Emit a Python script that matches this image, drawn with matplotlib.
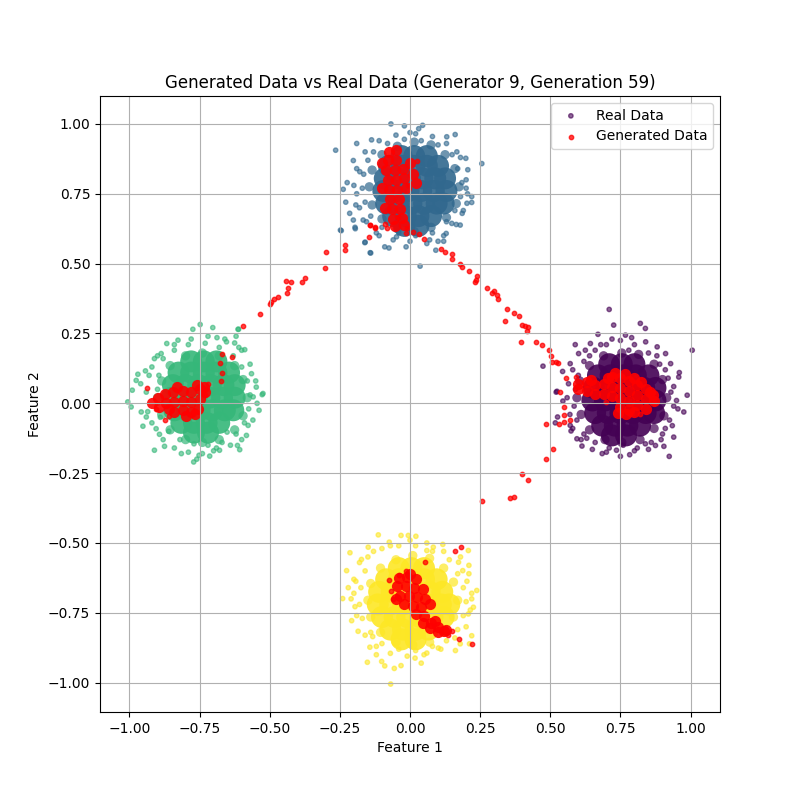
import matplotlib
matplotlib.use("Agg")
import matplotlib.pyplot as plt
import numpy as np

# ---------------- Real data ----------------
# label 0 = right (purple), 1 = top (blue), 2 = left (green), 3 = bottom (yellow)

# dense cores of each cluster
core0 = [(0.71,0.14),(0.755,0.14),(0.80,0.14),
         (0.67,0.10),(0.715,0.10),(0.76,0.10),(0.805,0.10),(0.85,0.10),
         (0.655,0.055),(0.70,0.055),(0.745,0.055),(0.79,0.055),(0.835,0.055),(0.875,0.055),
         (0.65,0.01),(0.695,0.01),(0.74,0.01),(0.785,0.01),(0.83,0.01),(0.875,0.01),
         (0.66,-0.035),(0.705,-0.035),(0.75,-0.035),(0.795,-0.035),(0.84,-0.035),(0.87,-0.035),
         (0.685,-0.08),(0.73,-0.08),(0.775,-0.08),(0.82,-0.08),
         (0.72,-0.115),(0.77,-0.115)]
core1 = [(-0.03,0.885),(0.015,0.885),(0.06,0.885),
         (-0.075,0.85),(-0.03,0.85),(0.015,0.85),(0.06,0.85),(0.10,0.85),
         (-0.09,0.805),(-0.045,0.805),(0.0,0.805),(0.045,0.805),(0.09,0.805),(0.125,0.805),
         (-0.095,0.76),(-0.05,0.76),(-0.005,0.76),(0.04,0.76),(0.085,0.76),(0.13,0.76),
         (-0.085,0.715),(-0.04,0.715),(0.005,0.715),(0.05,0.715),(0.095,0.715),(0.12,0.715),
         (-0.06,0.67),(-0.015,0.67),(0.03,0.67),(0.075,0.67),
         (-0.02,0.635),(0.03,0.635)]
core2 = [(-0.78,0.15),(-0.735,0.15),(-0.69,0.15),
         (-0.825,0.11),(-0.78,0.11),(-0.735,0.11),(-0.69,0.11),(-0.645,0.11),
         (-0.845,0.065),(-0.80,0.065),(-0.755,0.065),(-0.71,0.065),(-0.665,0.065),(-0.625,0.065),
         (-0.85,0.02),(-0.805,0.02),(-0.76,0.02),(-0.715,0.02),(-0.67,0.02),(-0.625,0.02),
         (-0.84,-0.025),(-0.795,-0.025),(-0.75,-0.025),(-0.705,-0.025),(-0.66,-0.025),(-0.63,-0.025),
         (-0.815,-0.07),(-0.77,-0.07),(-0.725,-0.07),(-0.68,-0.07),
         (-0.77,-0.105),(-0.72,-0.105)]
core3 = [(-0.04,-0.59),(0.005,-0.59),(0.05,-0.59),
         (-0.085,-0.63),(-0.04,-0.63),(0.005,-0.63),(0.05,-0.63),(0.095,-0.63),
         (-0.11,-0.675),(-0.065,-0.675),(-0.02,-0.675),(0.025,-0.675),(0.07,-0.675),(0.115,-0.675),
         (-0.115,-0.72),(-0.07,-0.72),(-0.025,-0.72),(0.02,-0.72),(0.065,-0.72),(0.11,-0.72),(0.14,-0.72),
         (-0.10,-0.765),(-0.055,-0.765),(-0.01,-0.765),(0.035,-0.765),(0.08,-0.765),(0.12,-0.765),
         (-0.07,-0.81),(-0.025,-0.81),(0.02,-0.81),(0.065,-0.81),
         (-0.03,-0.845),(0.02,-0.845)]

# transition band around each core
ring0 = [(0.915,0.02),(0.90,0.085),(0.87,0.14),(0.815,0.175),(0.755,0.18),(0.69,0.17),(0.64,0.135),
         (0.605,0.08),(0.595,0.02),(0.61,-0.04),(0.64,-0.095),(0.695,-0.13),(0.755,-0.14),
         (0.82,-0.13),(0.87,-0.09),(0.905,-0.045)]
ring1 = [(0.175,0.775),(0.16,0.84),(0.125,0.89),(0.075,0.925),(0.015,0.935),(-0.045,0.92),
         (-0.10,0.89),(-0.135,0.835),(-0.145,0.775),(-0.135,0.71),(-0.10,0.66),(-0.045,0.625),
         (0.015,0.615),(0.075,0.63),(0.13,0.665),(0.165,0.715)]
ring2 = [(-0.58,0.02),(-0.595,0.085),(-0.625,0.135),(-0.68,0.17),(-0.74,0.18),(-0.80,0.17),
         (-0.855,0.135),(-0.885,0.08),(-0.90,0.02),(-0.885,-0.04),(-0.855,-0.095),(-0.80,-0.13),
         (-0.74,-0.14),(-0.68,-0.13),(-0.625,-0.095),(-0.595,-0.045)]
ring3 = [(0.17,-0.705),(0.155,-0.64),(0.12,-0.59),(0.07,-0.555),(0.01,-0.545),(-0.05,-0.56),
         (-0.105,-0.59),(-0.14,-0.645),(-0.15,-0.705),(-0.14,-0.765),(-0.105,-0.82),(-0.05,-0.855),
         (0.01,-0.865),(0.07,-0.855),(0.12,-0.82),(0.155,-0.765)]

# scattered points around each cluster
outer0 = [(0.71,0.336),(0.726,0.28),(0.821,0.286),(0.839,0.268),(0.67,0.247),(0.589,0.21),
          (0.474,0.133),(0.544,0.114),(0.524,0.043),(0.545,0.008),(0.526,-0.049),(0.571,-0.079),
          (0.574,-0.099),(0.595,-0.127),(0.613,-0.153),(0.685,-0.18),(0.736,-0.168),(0.783,-0.184),
          (0.839,-0.145),(0.875,-0.151),(0.924,-0.19),(0.905,-0.154),(0.94,-0.121),(0.976,-0.031),
          (0.988,0.029),(1.006,0.19),(0.958,0.094),(0.929,0.142),(0.911,0.178),(0.881,0.202),
          (0.768,0.244),(0.643,0.214),(0.601,0.178),(0.571,0.142),(0.521,0.04),(0.518,-0.07),
          (0.62,0.15),(0.66,0.19),(0.70,0.21),(0.75,0.225),(0.80,0.21),(0.85,0.18),(0.89,0.14),
          (0.92,0.09),(0.93,0.04),(0.94,-0.01),(0.925,-0.06),(0.90,-0.11),(0.86,-0.14),
          (0.81,-0.16),(0.76,-0.15),(0.71,-0.16),(0.66,-0.14),(0.62,-0.11),(0.595,-0.06),
          (0.585,-0.01),(0.59,0.05),(0.60,0.10),(0.64,0.17),(0.78,0.19),(0.91,-0.09),(0.63,-0.125),
          (0.94,0.06),(0.955,-0.02),(0.935,-0.08),(0.91,0.12),(0.88,0.17),(0.84,0.22),(0.79,0.235),
          (0.72,0.23),(0.68,0.21),(0.625,0.19),(0.58,0.12),(0.565,0.07),(0.56,0.02),(0.57,-0.04),
          (0.58,-0.09),(0.61,-0.13),(0.65,-0.165),(0.70,-0.175),(0.75,-0.19),(0.80,-0.17),
          (0.85,-0.165),(0.895,-0.13),(0.95,0.01),(0.96,0.11)]
outer1 = [(-0.265,0.906),(-0.068,1.0),(-0.02,0.993),(0.045,0.995),(0.0,0.969),(0.031,0.983),
          (0.161,0.962),(0.256,0.858),(0.199,0.877),(0.206,0.836),(0.22,0.719),(-0.202,0.869),
          (-0.224,0.79),(-0.238,0.766),(-0.229,0.72),(-0.193,0.71),(-0.202,0.656),(-0.196,0.63),
          (-0.248,0.62),(-0.161,0.575),(-0.142,0.539),(-0.075,0.556),(-0.014,0.56),(0.036,0.491),
          (0.092,0.548),(0.129,0.608),(0.179,0.638),(0.186,0.68),(0.203,0.716),(-0.19,0.93),
          (-0.137,0.943),(0.131,0.954),(0.167,0.90),(-0.179,0.829),(-0.167,0.656),(-0.048,0.596),
          (0.06,0.572),(0.149,0.644),(-0.245,0.618),(-0.195,0.625),(-0.16,0.577),(-0.14,0.538),
          (-0.13,0.90),(-0.08,0.93),(-0.02,0.945),(0.04,0.94),(0.10,0.925),(0.15,0.89),
          (0.17,0.84),(0.185,0.79),(0.18,0.74),(0.16,0.69),(0.13,0.65),(0.08,0.61),(0.02,0.60),
          (-0.04,0.61),(-0.10,0.63),(-0.14,0.67),(-0.16,0.72),(-0.17,0.77),(-0.165,0.82),
          (-0.15,0.87),(-0.11,0.60),(0.12,0.60),(0.20,0.77),(-0.19,0.75),
          (0.20,0.80),(0.205,0.75),(0.19,0.69),(0.165,0.64),(0.12,0.58),(0.07,0.585),(0.0,0.58),
          (-0.06,0.585),(-0.12,0.61),(-0.155,0.65),(-0.18,0.70),(-0.20,0.78),(-0.19,0.84),
          (-0.16,0.90),(-0.11,0.94),(-0.05,0.96),(0.02,0.965),(0.08,0.955),(0.13,0.93),
          (0.18,0.88),(-0.215,0.68),(0.22,0.74),(0.10,0.58),(-0.09,0.56)]
outer2 = [(-0.748,0.282),(-0.774,0.265),(-0.703,0.271),(-0.867,0.214),(-0.911,0.16),(-0.943,0.116),
          (-0.97,0.104),(-0.976,0.082),(-0.99,0.047),(-1.006,0.005),(-0.994,-0.013),(-0.958,-0.031),
          (-0.94,-0.049),(-0.952,-0.082),(-0.905,-0.091),(-0.893,-0.111),(-0.911,-0.168),(-0.875,-0.154),
          (-0.815,-0.18),(-0.771,-0.21),(-0.752,-0.186),(-0.714,-0.189),(-0.679,-0.168),(-0.615,-0.151),
          (-0.652,-0.103),(-0.583,-0.115),(-0.577,-0.079),(-0.538,-0.025),(-0.559,0.023),(-0.524,0.035),
          (-0.548,0.058),(-0.565,0.106),(-0.589,0.192),(-0.625,0.216),(-0.688,0.235),(-0.613,0.265),
          (-0.654,0.22),(-0.827,0.226),(-0.887,0.178),(-0.611,0.265),(-0.527,0.031),(-0.607,-0.166),
          (-0.88,0.16),(-0.84,0.19),(-0.79,0.21),(-0.73,0.215),(-0.68,0.20),(-0.63,0.17),
          (-0.60,0.13),(-0.58,0.08),(-0.57,0.03),(-0.575,-0.02),(-0.59,-0.07),(-0.62,-0.11),
          (-0.67,-0.14),(-0.72,-0.15),(-0.77,-0.145),(-0.82,-0.13),(-0.86,-0.10),(-0.89,-0.05),
          (-0.90,0.0),(-0.90,0.05),(-0.895,0.10),(-0.92,0.13),(-0.70,-0.17),(-0.60,0.19),
          (-0.545,0.0),(-0.55,0.08),(-0.57,0.14),(-0.61,0.20),(-0.66,0.23),(-0.72,0.24),
          (-0.78,0.23),(-0.84,0.21),(-0.90,0.17),(-0.93,0.10),(-0.94,0.04),(-0.935,-0.03),
          (-0.92,-0.07),(-0.88,-0.13),(-0.84,-0.16),(-0.79,-0.175),(-0.74,-0.18),(-0.69,-0.16),
          (-0.64,-0.15),(-0.60,-0.13),(-0.56,-0.06),(-0.96,0.07),(-0.76,-0.20),(-0.62,0.24)]
outer3 = [(-0.113,-0.471),(-0.032,-0.473),(-0.006,-0.473),(0.021,-0.476),(-0.074,-0.497),(-0.214,-0.535),
          (-0.173,-0.559),(-0.226,-0.599),(-0.193,-0.637),(-0.24,-0.699),(-0.196,-0.728),(-0.208,-0.778),
          (-0.185,-0.816),(-0.133,-0.835),(-0.143,-0.873),(-0.152,-0.927),(-0.101,-0.924),(-0.056,-0.949),
          (-0.032,-0.939),(-0.069,-1.005),(0.018,-0.912),(0.06,-0.894),(0.101,-0.876),(0.162,-0.885),
          (0.179,-0.861),(0.22,-0.832),(0.212,-0.861),(0.208,-0.754),(0.226,-0.73),(0.22,-0.70),
          (0.238,-0.67),(0.203,-0.637),(0.188,-0.599),(0.173,-0.569),(0.208,-0.527),(0.117,-0.505),
          (0.083,-0.515),(0.06,-0.527),(-0.149,-0.515),
          (-0.15,-0.55),(-0.10,-0.52),(-0.04,-0.51),(0.02,-0.51),(0.08,-0.53),(0.14,-0.56),
          (0.17,-0.61),(0.19,-0.66),(0.20,-0.71),(0.19,-0.76),(0.17,-0.81),(0.13,-0.85),
          (0.08,-0.87),(0.02,-0.885),(-0.04,-0.88),(-0.10,-0.86),(-0.14,-0.82),(-0.17,-0.77),
          (-0.18,-0.72),(-0.175,-0.66),(-0.16,-0.60),(-0.20,-0.68),(0.21,-0.58),(-0.12,-0.90),
          (0.22,-0.68),(0.215,-0.74),(0.20,-0.80),(0.16,-0.84),(0.11,-0.88),(0.05,-0.90),
          (-0.01,-0.905),(-0.07,-0.895),(-0.12,-0.87),(-0.16,-0.83),(-0.19,-0.76),(-0.21,-0.70),
          (-0.20,-0.63),(-0.18,-0.57),(-0.13,-0.53),(-0.07,-0.51),(0.0,-0.49),(0.06,-0.50),
          (0.12,-0.53),(0.18,-0.55),(0.21,-0.61),(-0.22,-0.66),(0.04,-0.93),(-0.09,-0.94)]

# ---------------- Generated data ----------------
gen_core = [
    # top cluster strip
    (-0.075,0.90),(-0.05,0.905),(-0.08,0.87),(-0.05,0.87),(-0.085,0.835),(-0.055,0.835),
    (-0.025,0.84),(-0.08,0.80),(-0.05,0.80),(-0.02,0.805),(0.01,0.82),(-0.075,0.765),
    (-0.045,0.765),(-0.015,0.77),(-0.07,0.73),(-0.04,0.73),(-0.065,0.695),(-0.035,0.695),
    (-0.06,0.66),(-0.03,0.665),(-0.055,0.635),(-0.02,0.64),
    (-0.10,0.86),(-0.10,0.77),(-0.09,0.70),(0.0,0.86),(0.02,0.79),
    # left cluster blob
    (-0.90,0.02),(-0.875,0.035),(-0.87,0.0),(-0.845,0.04),(-0.84,0.005),(-0.84,-0.03),
    (-0.81,0.045),(-0.81,0.01),(-0.81,-0.025),(-0.78,0.04),(-0.78,0.005),(-0.78,-0.03),
    (-0.75,0.05),(-0.75,0.015),(-0.755,-0.02),(-0.735,0.06),
    (-0.92,0.0),(-0.895,-0.015),(-0.86,-0.02),(-0.83,0.06),(-0.76,0.065),(-0.73,0.04),
    (-0.765,-0.04),(-0.80,-0.045),
    # right cluster blob
    (0.60,0.07),(0.63,0.075),(0.63,0.045),(0.66,0.065),(0.66,0.035),(0.69,0.07),(0.69,0.035),
    (0.72,0.095),(0.72,0.06),(0.72,0.025),(0.75,0.09),(0.75,0.055),(0.75,0.02),(0.75,-0.015),
    (0.78,0.08),(0.78,0.045),(0.78,0.01),(0.78,-0.025),(0.81,0.065),(0.81,0.03),(0.81,-0.005),
    (0.84,0.05),(0.84,0.015),(0.84,-0.02),(0.865,0.03),
    (0.60,0.05),(0.645,0.085),(0.705,0.09),(0.73,0.11),(0.765,0.105),(0.80,0.09),(0.825,0.075),
    (0.855,0.04),(0.87,0.01),(0.80,-0.03),(0.77,-0.04),(0.74,-0.035),
    # bottom cluster band
    (-0.04,-0.625),(-0.01,-0.62),(0.02,-0.63),(-0.045,-0.655),(-0.015,-0.655),(0.015,-0.66),
    (0.045,-0.665),(-0.035,-0.69),(-0.005,-0.69),(0.025,-0.695),(0.055,-0.70),(-0.02,-0.72),
    (0.01,-0.725),(0.04,-0.73),(0.02,-0.755),(0.05,-0.76),(0.045,-0.785),(0.075,-0.785),
    (0.07,-0.805),(0.10,-0.80),(0.12,-0.815),
    (0.0,-0.61),(-0.05,-0.70),(0.07,-0.72),(0.09,-0.78),(0.10,-0.82),(0.13,-0.81)]
gen_pts = [
    # near top cluster
    (0.024,0.868),(-0.006,0.781),(-0.143,0.638),(-0.125,0.626),(-0.145,0.594),(-0.083,0.626),
    (-0.042,0.668),(-0.01,0.626),(0.012,0.614),(0.033,0.606),(0.051,0.587),(-0.089,0.642),
    (-0.142,0.64),(-0.123,0.632),(-0.015,0.608),
    # trail left
    (-0.299,0.54),(-0.302,0.486),(-0.231,0.565),(-0.231,0.547),(-0.374,0.447),(-0.385,0.433),
    (-0.423,0.433),(-0.443,0.436),(-0.435,0.411),(-0.438,0.395),(-0.47,0.379),(-0.483,0.375),
    (-0.495,0.364),(-0.499,0.354),(-0.535,0.321),(-0.595,0.278),(-0.635,0.166),(-0.67,0.175),
    (-0.678,0.146),(-0.67,0.11),(-0.674,0.081),(-0.938,0.056),(-0.873,-0.058),(-0.905,-0.02),
    (-0.86,-0.045),(-0.72,0.07),(-0.73,0.03),
    # trail right
    (0.112,0.551),(0.125,0.542),(0.148,0.533),(0.148,0.515),(0.18,0.498),(0.187,0.489),
    (0.212,0.474),(0.238,0.455),(0.235,0.443),(0.233,0.435),(0.276,0.411),(0.292,0.395),
    (0.30,0.401),(0.31,0.387),(0.313,0.372),(0.344,0.339),(0.369,0.325),(0.388,0.314),
    (0.34,0.294),(0.40,0.282),(0.411,0.276),(0.42,0.273),(0.417,0.258),(0.394,0.218),
    (0.45,0.219),(0.47,0.21),(0.494,0.19),(0.502,0.168),(0.506,0.149),(0.527,0.144),
    (0.521,0.147),(0.557,0.092),(0.533,0.04),(0.548,-0.013),(0.548,-0.043),(0.548,-0.067),
    (0.53,-0.075),(0.569,-0.061),(0.483,-0.075),(0.508,-0.162),(0.483,-0.198),(0.398,-0.252),
    (0.419,-0.273),(0.358,-0.338),(0.372,-0.334),(0.258,-0.348),
    (0.783,-0.04),(0.82,-0.04),(0.87,0.0),(0.59,0.095),(0.70,0.005),
    # near bottom cluster
    (0.183,-0.513),(0.162,-0.527),(0.055,-0.567),(-0.075,-0.634),(-0.039,-0.613),(-0.014,-0.599),
    (-0.069,-0.673),(0.176,-0.843),(0.22,-0.861),(0.149,-0.816),(0.135,-0.83),(-0.06,-0.70)]

TITLE = "Generated Data vs Real Data (Generator 9, Generation 59)"

def stack(groups):
    xs, ys, ls = [], [], []
    for lab, pts in groups:
        for x, y in pts:
            xs.append(x); ys.append(y); ls.append(lab)
    return np.array(xs), np.array(ys), np.array(ls)

cx, cy, cl = stack([(0, core0), (1, core1), (2, core2), (3, core3)])
rx, ry, rl = stack([(0, ring0), (1, ring1), (2, ring2), (3, ring3)])
ox, oy, ol = stack([(0, outer0), (1, outer1), (2, outer2), (3, outer3)])
gcx, gcy, _ = stack([(0, gen_core)])
gpx, gpy, _ = stack([(0, gen_pts)])

fig, ax = plt.subplots(figsize=(8, 8), dpi=100)
ax.scatter(cx, cy, c=cl, cmap="viridis", vmin=0, vmax=3, s=250, alpha=0.9, linewidths=0)
ax.scatter(rx, ry, c=rl, cmap="viridis", vmin=0, vmax=3, s=45, alpha=0.7, linewidths=0)
ax.scatter(ox, oy, c=ol, cmap="viridis", vmin=0, vmax=3, s=10, alpha=0.6, label="Real Data")
ax.scatter(gcx, gcy, color="red", s=65, alpha=0.9, linewidths=0)
ax.scatter(gpx, gpy, color="red", s=10, alpha=0.75, label="Generated Data")
ax.set_xlim(-1.105, 1.105)
ax.set_ylim(-1.105, 1.1)
ax.set_title(TITLE)
ax.set_xlabel("Feature 1")
ax.set_ylabel("Feature 2")
ax.legend(loc="upper right")
ax.grid(True)
fig.savefig("out.png", dpi=100)
